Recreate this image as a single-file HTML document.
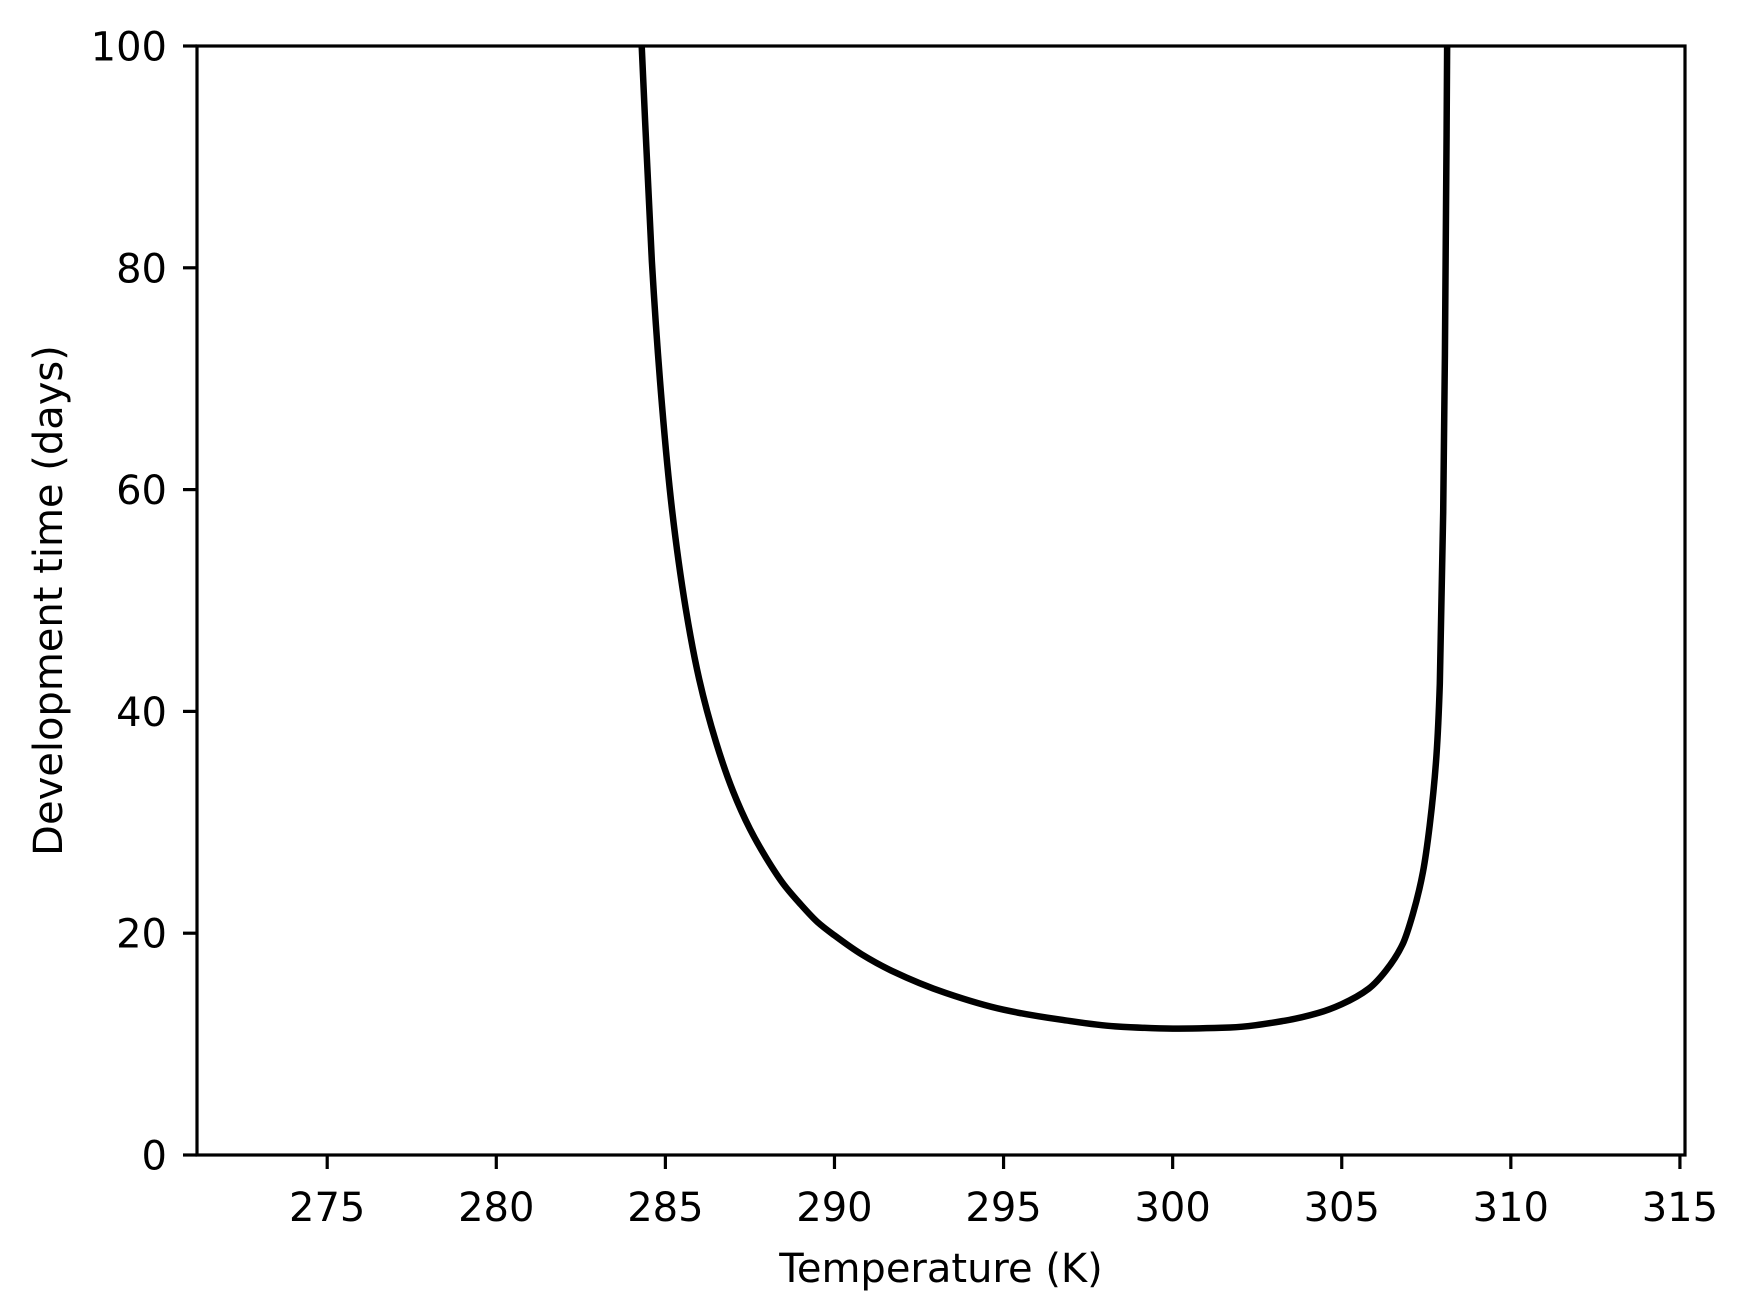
<!DOCTYPE html>
<html><head><meta charset="utf-8"><style>
html,body{margin:0;padding:0;background:#fff;}
svg{display:block;font-family:"DejaVu Sans","Liberation Sans",sans-serif;}
</style></head><body>
<svg id="chart" width="1750" height="1315" viewBox="0 0 1750 1315" xmlns="http://www.w3.org/2000/svg">
<rect width="1750" height="1315" fill="#fff"/>
<g id="plot"></g>
</svg>
<script>
const temps = [284.3, 284.6, 284.9, 285.2, 285.6, 286.0, 286.5, 287.0, 287.5, 288.0, 288.5, 289.0, 289.5, 290.0, 290.8, 291.7, 293.3, 295.0, 296.7, 298.3, 300.0, 301.7, 303.3, 304.3, 305.0, 305.8, 306.3, 306.8, 307.1, 307.4, 307.6, 307.8, 307.9, 308.0, 308.05, 308.1, 308.12];
const days = [100, 80.6, 67.6, 58.1, 49.3, 42.9, 37.2, 32.8, 29.4, 26.7, 24.4, 22.6, 21.0, 19.8, 18.1, 16.6, 14.6, 13.1, 12.2, 11.6, 11.4, 11.5, 12.1, 12.8, 13.6, 15.0, 16.6, 19.0, 21.7, 25.5, 29.7, 36, 42.5, 58, 72, 92, 102];
const xTicks = [275, 280, 285, 290, 295, 300, 305, 310, 315];
const yTicks = [0, 20, 40, 60, 80, 100];

const L = 197, R = 1685, T = 46, B = 1155;
const xMin = 271.15, xMax = 315.15, yMin = 0, yMax = 100;
const xs = v => L + (v - xMin) / (xMax - xMin) * (R - L);
const ys = v => B - (v - yMin) / (yMax - yMin) * (B - T);
const NS = "http://www.w3.org/2000/svg";
const g = document.getElementById('plot');
function mk(tag, attrs) { const e = document.createElementNS(NS, tag); for (const k in attrs) e.setAttribute(k, attrs[k]); g.appendChild(e); return e; }

// monotone cubic path through data points (in pixel space)
const px = temps.map(xs), py = days.map(ys);
const n = px.length;
const dk = [], m = new Array(n);
for (let i = 0; i < n - 1; i++) dk.push((py[i + 1] - py[i]) / (px[i + 1] - px[i]));
m[0] = dk[0]; m[n - 1] = dk[n - 2];
for (let i = 1; i < n - 1; i++) {
  if (dk[i - 1] * dk[i] <= 0) m[i] = 0;
  else { const h0 = px[i] - px[i - 1], h1 = px[i + 1] - px[i];
    const w1 = 2 * h1 + h0, w2 = h1 + 2 * h0;
    m[i] = (w1 + w2) / (w1 / dk[i - 1] + w2 / dk[i]); }
}
let d = `M${px[0]},${py[0]}`;
for (let i = 0; i < n - 1; i++) {
  const h = (px[i + 1] - px[i]) / 3;
  d += ` C${px[i] + h},${py[i] + m[i] * h} ${px[i + 1] - h},${py[i + 1] - m[i + 1] * h} ${px[i + 1]},${py[i + 1]}`;
}
const clip = mk('clipPath', {id: 'clip'});
const cr = document.createElementNS(NS, 'rect');
cr.setAttribute('x', L); cr.setAttribute('y', T); cr.setAttribute('width', R - L); cr.setAttribute('height', B - T);
clip.appendChild(cr);
const line = mk('path', {d: d, fill: 'none', stroke: '#000', 'stroke-width': 6.5, 'stroke-linejoin': 'round', 'clip-path': 'url(#clip)'});



const frame = mk('rect', {x: L, y: T, width: R - L, height: B - T, fill: 'none', stroke: '#000', 'stroke-width': 3.2});



xTicks.forEach(v => {
  const x = xs(v);
  const tk = mk('line', {x1: x, x2: x, y1: B, y2: B + 14, stroke: '#000', 'stroke-width': 3.2});
  
  
  const tx = mk('text', {x: x, y: 1221, 'font-size': 40, 'text-anchor': 'middle', fill: '#000'});
  tx.textContent = v;
  
  
});
yTicks.forEach(v => {
  const y = ys(v);
  const tk = mk('line', {x1: L - 14, x2: L, y1: y, y2: y, stroke: '#000', 'stroke-width': 3.2});
  
  
  const tx = mk('text', {x: 167, y: y + 14.5, 'font-size': 40, 'text-anchor': 'end', fill: '#000'});
  tx.textContent = v;
  
  
});
const xl = mk('text', {x: (L + R) / 2, y: 1282, 'font-size': 40, 'text-anchor': 'middle', fill: '#000'});
xl.textContent = 'Temperature (K)';


const yl = mk('text', {x: 0, y: 0, 'font-size': 40, 'text-anchor': 'middle', fill: '#000', transform: `translate(62,${(T + B) / 2}) rotate(-90)`});
yl.textContent = 'Development time (days)';


</script>
</body></html>
